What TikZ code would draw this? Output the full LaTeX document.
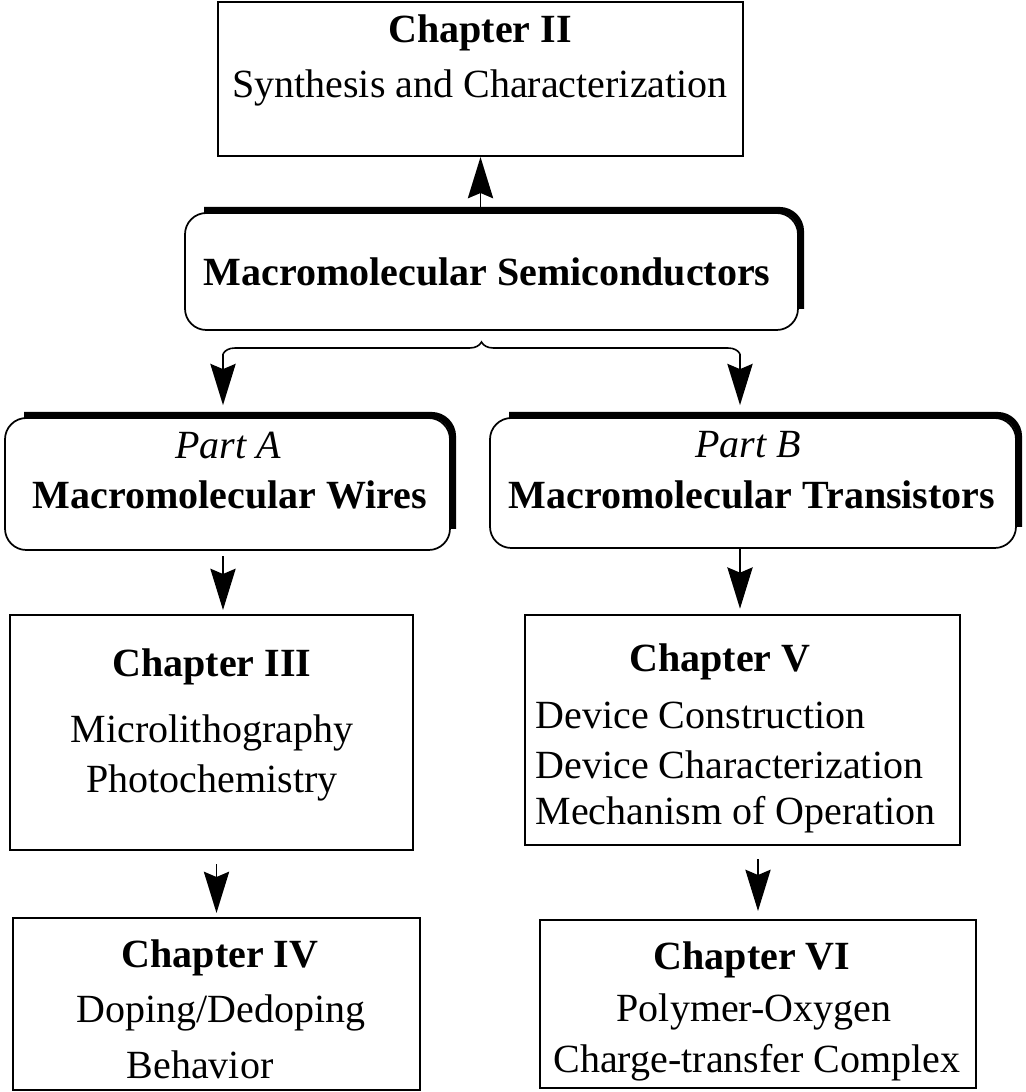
\documentclass[tikz,border=0pt]{standalone}
\usepackage{fontspec}
\setmainfont{Liberation Serif}
\usetikzlibrary{calc,fit,arrows.meta,decorations.pathreplacing}

\tikzset{every picture/.style={line width=0.75pt}}

\begin{document}
\begin{tikzpicture}[x=0.75pt,y=0.75pt,yscale=-1,
	every node/.style={font=\fontsize{30}{36}\selectfont, inner sep=0pt},
	sqbox/.style={draw, line width=1.5, inner sep=0pt},
	rndbox/.style={draw, line width=1.3, rounded corners=16, inner sep=0pt},
	heavy/.style={line width=4.8, rounded corners=16},
	flow/.style={line width=1.1, -{Stealth[length=31pt,width=19pt,inset=4pt]}}]
	\useasboundingbox (0,0) rectangle (1025,1092);

	%Shape: Rectangle [Chapter II]
	\node [sqbox, fit={(218,2) (743,156)}] (ch2) {};
	%Shape: Rounded Rect [Semiconductors]
	\node [rndbox, fit={(185,213) (798,330)}] (sc) {};
	\draw [heavy] ($(sc.north west)+(20,-2)$) -- ($(sc.north east)+(2,-2)$) -- ($(sc.south east)+(2,-22)$) ;
	%Shape: Rounded Rect [Part A]
	\node [rndbox, fit={(5,418) (450,550)}] (pa) {};
	\draw [heavy] ($(pa.north west)+(20,-2)$) -- ($(pa.north east)+(2,-2)$) -- ($(pa.south east)+(2,-22)$) ;
	%Shape: Rounded Rect [Part B]
	\node [rndbox, fit={(490,418) (1016,548)}] (pb) {};
	\draw [heavy] ($(pb.north west)+(20,-2)$) -- ($(pb.north east)+(2,-2)$) -- ($(pb.south east)+(2,-22)$) ;
	%Shape: Rectangle [Chapter III]
	\node [sqbox, fit={(10,615) (413,850)}] (ch3) {};
	%Shape: Rectangle [Chapter V]
	\node [sqbox, fit={(525,615) (960,845)}] (ch5) {};
	%Shape: Rectangle [Chapter IV]
	\node [sqbox, fit={(13,918) (420,1090)}] (ch4) {};
	%Shape: Rectangle [Chapter VI]
	\node [sqbox, fit={(540,920) (976,1088)}] (ch6) {};

	%Brace
	\coordinate (bl) at (223,354);
	\coordinate (br) at (740,354);
	\draw [decorate, decoration={brace, amplitude=9pt}, line width=1.2] (bl) -- (br) ;

	%Straight Lines
	\draw [flow] (ch2.south |- sc.north) -- (ch2.south) ;
	\draw [flow, shorten >=9] (bl) -- (pa.north -| bl) ;
	\draw [flow, shorten >=9] (br) -- (pb.north -| br) ;
	\draw [flow, shorten <=4, shorten >=3] (pa.south -| bl) -- (ch3.north -| bl) ;
	\draw [flow, shorten >=4] (pb.south -| br) -- (ch5.north -| br) ;
	\draw [flow, shorten <=10, shorten >=3] (ch3.south -| ch4.north) -- (ch4.north) ;
	\draw [flow, shorten <=10, shorten >=6] (ch5.south -| ch6.north) -- (ch6.north) ;

	% Text Node
	\draw (480,33) node (t2a) [font=\fontsize{30}{36}\selectfont\bfseries] {Chapter II};
	% Text Node
	\draw (480,88) node (t2b) {Synthesis and Characterization};
	% Text Node
	\draw (487,272) node (tsc) [font=\fontsize{30}{36}\selectfont\bfseries] {Macromolecular Semiconductors};
	% Text Node
	\draw (228,445) node (tpa1) [font=\fontsize{30}{36}\selectfont\itshape] {Part A};
	% Text Node
	\draw (230,495) node (tpa2) [font=\fontsize{30}{36}\selectfont\bfseries] {Macromolecular Wires};
	% Text Node
	\draw (748,445) node (tpb1) [font=\fontsize{30}{36}\selectfont\itshape] {Part B};
	% Text Node
	\draw (752,495) node (tpb2) [font=\fontsize{30}{36}\selectfont\bfseries] {Macromolecular Transistors};
	% Text Node
	\draw (212,667) node (t3a) [font=\fontsize{30}{36}\selectfont\bfseries] {Chapter III};
	% Text Node
	\draw (212,733) node (t3b) {Microlithography};
	% Text Node
	\draw (212,783) node (t3c) {Photochemistry};
	% Text Node
	\draw (720,662) node (t5a) [font=\fontsize{30}{36}\selectfont\bfseries] {Chapter V};
	% Text Node
	\draw (535,715) node (t5b) [anchor=west] {Device Construction};
	% Text Node
	\draw (535,765) node (t5c) [anchor=west] {Device Characterization};
	% Text Node
	\draw (535,815) node (t5d) [anchor=west] {Mechanism of Operation};
	% Text Node
	\draw (220,958) node (t4a) [font=\fontsize{30}{36}\selectfont\bfseries] {Chapter IV};
	% Text Node
	\draw (221,1013) node (t4b) {Doping/Dedoping};
	% Text Node
	\draw (200,1065) node (t4c) {Behavior};
	% Text Node
	\draw (752,960) node (t6a) [font=\fontsize{30}{36}\selectfont\bfseries] {Chapter VI};
	% Text Node
	\draw (754,1012) node (t6b) {Polymer-Oxygen};
	% Text Node
	\draw (757,1063) node (t6c) {Charge-transfer Complex};

\end{tikzpicture}
\end{document}
